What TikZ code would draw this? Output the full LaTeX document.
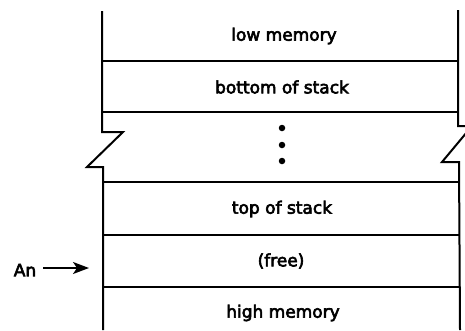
\documentclass[tikz,border=0pt]{standalone}
\usepackage{fontspec}
\newfontfamily\etiq{DejaVu Sans}[FakeBold=3.5]
\usetikzlibrary{arrows.meta}
\begin{document}
\begin{tikzpicture}[x=1pt, y=-1pt, line width=2pt,
    celda/.style={font=\etiq\fontsize{17}{19}\selectfont, inner sep=0pt},
    punto/.style={fill, circle, inner sep=0pt, minimum size=6.5pt},
    flecha/.style={-{Stealth[length=16pt, width=12pt, inset=4pt]}, line width=1.8pt}]
    \useasboundingbox (0,0) rectangle (465,330);
    \clip (0,0) rectangle (465,330);

    % Bordes de la pila (con corte)
    \draw (102,11) -- (102,132) -- (123,132) -- (87,167) -- (103,167) -- (103,330);
    \draw (458,10) -- (458,126) -- (472,126) -- (442,162) -- (459,162) -- (460,330);

    % Separaciones
    \draw (102,61) -- (458,61);
    \draw (102,112) -- (458,112);
    \draw (103,182) -- (459,182);
    \draw (103,235) -- (460,235);
    \draw (103,287) -- (460,287);

    % Contenido de las celdas
    \node[celda] (lowmem) at (284,36) {low memory};
    \node[celda] (bottom) at (282,87) {bottom of stack};
    \node[punto] (d1) at (282,128) {};
    \node[punto] (d2) at (282,145) {};
    \node[punto] (d3) at (282,161) {};
    \node[celda] (top) at (282,209) {top of stack};
    \node[celda] (free) at (281,261) {(free)};
    \node[celda] (highmem) at (283,313) {high memory};

    % Puntero
    \node[celda] (an) at (25,270) {An};
    \coordinate (anstart) at (43,268);
    \coordinate (anend) at (89,268);
    \draw[flecha] (anstart) -- (anend);
\end{tikzpicture}
\end{document}
